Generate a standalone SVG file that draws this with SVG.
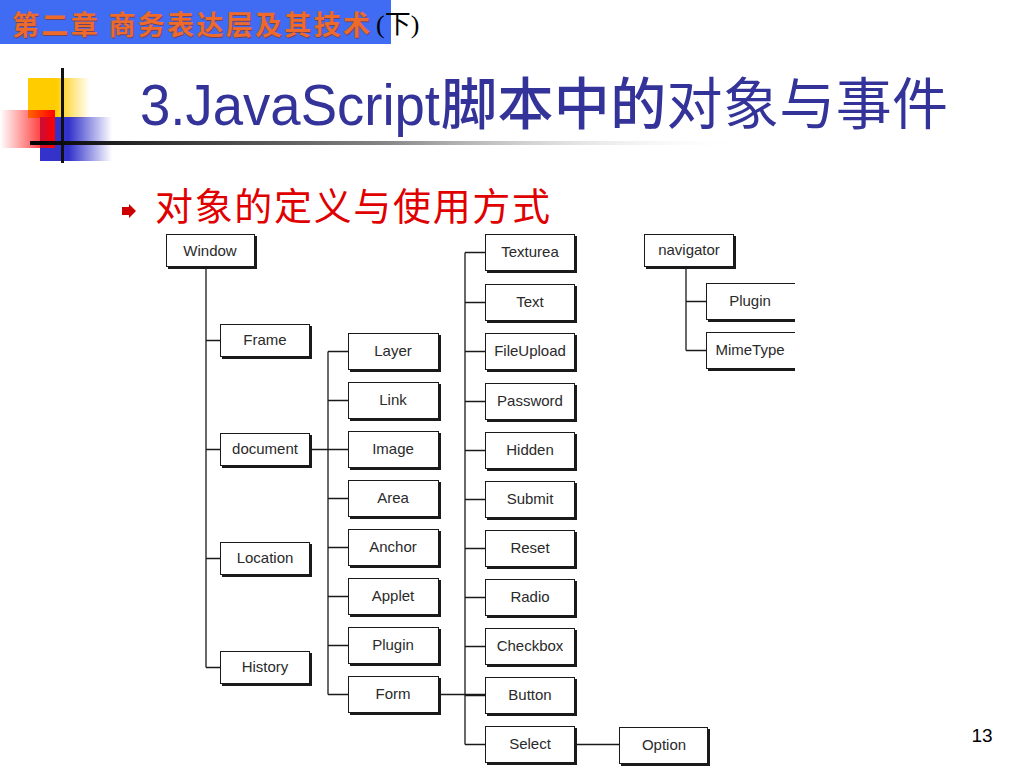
<svg xmlns="http://www.w3.org/2000/svg" width="1024" height="768" viewBox="0 0 1024 768">
<defs>
<style>
.box{fill:#fff;stroke:#1a1a1a;stroke-width:1}
.sh{fill:#1a1a1a}
.lbl{font-family:"Liberation Sans","DejaVu Sans",sans-serif;font-size:15px;fill:#2a2a2a;text-anchor:middle}
.con{fill:none;stroke:#1a1a1a;stroke-width:1.3}
</style>
<linearGradient id="gY" x1="0" x2="1" y1="0" y2="0"><stop offset="0" stop-color="#FFCC00"/><stop offset="0.45" stop-color="#FFCC00"/><stop offset="1" stop-color="#FFCC00" stop-opacity="0"/></linearGradient>
<linearGradient id="gR" x1="0" x2="1" y1="0" y2="0"><stop offset="0" stop-color="#FF0000" stop-opacity="0"/><stop offset="1" stop-color="#FF0000"/></linearGradient>
<linearGradient id="gB" x1="0" x2="1" y1="0" y2="0"><stop offset="0" stop-color="#3333CC"/><stop offset="0.4" stop-color="#3333CC"/><stop offset="1" stop-color="#3333CC" stop-opacity="0"/></linearGradient>
<linearGradient id="gL" x1="0" x2="1" y1="0" y2="0"><stop offset="0" stop-color="#000"/><stop offset="0.5" stop-color="#888"/><stop offset="1" stop-color="#fff" stop-opacity="0"/></linearGradient>
<clipPath id="cr"><rect x="0" y="0" width="795" height="768"/></clipPath>
</defs>
<rect width="1024" height="768" fill="#fff"/>
<g id="header">
<rect x="0" y="0" width="391" height="44" fill="#3F6CF2"/>
<text x="13" y="36" font-family="'Noto Sans CJK SC',sans-serif" font-weight="bold" font-size="27" fill="#8a2a08" opacity="0.6" textLength="358" lengthAdjust="spacing">第二章 商务表达层及其技术</text>
<text x="12" y="35" font-family="'Noto Sans CJK SC',sans-serif" font-weight="bold" font-size="27" fill="#EE6A2A" textLength="358" lengthAdjust="spacing">第二章 商务表达层及其技术</text>
<text x="376" y="33" font-family="'Liberation Serif','Noto Sans CJK SC',serif" font-size="26" fill="#000">(下)</text>
</g>
<g id="decor">
<rect x="28" y="78" width="62" height="40" fill="url(#gY)"/>
<rect x="40" y="117" width="72" height="44" fill="url(#gB)"/>
<rect x="0" y="110" width="55" height="38" fill="url(#gR)"/>
<rect x="61" y="68" width="3" height="95" fill="#111"/>
<rect x="30" y="141" width="720" height="4" fill="url(#gL)"/>
</g>
<g id="title">
<text x="140" y="125" font-family="'Liberation Sans',sans-serif" font-size="58" fill="#333399" textLength="300" lengthAdjust="spacingAndGlyphs">3.JavaScript</text>
<text x="441" y="124" font-family="'Noto Sans CJK SC',sans-serif" font-size="56" fill="#333399" textLength="507"><tspan font-weight="500">脚本中的</tspan>对象与事件</text>
</g>
<g id="subtitle">
<polygon points="122,207 129,207 129,204 136,211 129,218 129,215 122,215" fill="#CC0000"/>
<text x="155" y="220" font-family="'Noto Sans CJK SC',sans-serif" font-size="38" fill="#E00000" textLength="395">对象的定义与使用方式</text>
</g>
<g id="connectors">
<path class="con" d="M206 267V667.5M206 340.5H220M206 449.5H220M206 558.5H220M206 667.5H220"/>
<path class="con" d="M310 449.5H348M328 351.5V694.5M328 351.5H348M328 400.5H348M328 449.5H348M328 498.5H348M328 547.5H348M328 596.5H348M328 645.5H348M328 694.5H348"/>
<path class="con" d="M439 694.5H485M465 252.5V744.5M465 252.5H485M465 302.5H485M465 351.5H485M465 401.5H485M465 450.5H485M465 499.5H485M465 548.5H485M465 597.5H485M465 646.5H485M465 695.5H485M465 744.5H485"/>
<path class="con" d="M575 744.5H619"/>
<path class="con" d="M686 267V350.5M686 301.5H706M686 350.5H706"/>
</g>
<g id="n-window"><rect class="sh" x="168" y="236" width="89" height="33"/><rect class="box" x="166.5" y="234.5" width="88" height="32"/><text class="lbl" x="210" y="256">Window</text></g>
<g id="n-frame"><rect class="sh" x="222" y="326" width="90" height="33"/><rect class="box" x="220.5" y="324.5" width="89" height="32"/><text class="lbl" x="265" y="345">Frame</text></g>
<g id="n-document"><rect class="sh" x="222" y="435" width="90" height="33"/><rect class="box" x="220.5" y="433.5" width="89" height="32"/><text class="lbl" x="265" y="454">document</text></g>
<g id="n-location"><rect class="sh" x="222" y="544" width="90" height="33"/><rect class="box" x="220.5" y="542.5" width="89" height="32"/><text class="lbl" x="265" y="563">Location</text></g>
<g id="n-history"><rect class="sh" x="222" y="653" width="90" height="33"/><rect class="box" x="220.5" y="651.5" width="89" height="32"/><text class="lbl" x="265" y="672">History</text></g>
<g id="n-layer"><rect class="sh" x="350" y="335" width="91" height="37"/><rect class="box" x="348.5" y="333.5" width="90" height="36"/><text class="lbl" x="393" y="356">Layer</text></g>
<g id="n-link"><rect class="sh" x="350" y="384" width="91" height="37"/><rect class="box" x="348.5" y="382.5" width="90" height="36"/><text class="lbl" x="393" y="405">Link</text></g>
<g id="n-image"><rect class="sh" x="350" y="433" width="91" height="37"/><rect class="box" x="348.5" y="431.5" width="90" height="36"/><text class="lbl" x="393" y="454">Image</text></g>
<g id="n-area"><rect class="sh" x="350" y="482" width="91" height="37"/><rect class="box" x="348.5" y="480.5" width="90" height="36"/><text class="lbl" x="393" y="503">Area</text></g>
<g id="n-anchor"><rect class="sh" x="350" y="531" width="91" height="37"/><rect class="box" x="348.5" y="529.5" width="90" height="36"/><text class="lbl" x="393" y="552">Anchor</text></g>
<g id="n-applet"><rect class="sh" x="350" y="580" width="91" height="37"/><rect class="box" x="348.5" y="578.5" width="90" height="36"/><text class="lbl" x="393" y="601">Applet</text></g>
<g id="n-plugin"><rect class="sh" x="350" y="629" width="91" height="37"/><rect class="box" x="348.5" y="627.5" width="90" height="36"/><text class="lbl" x="393" y="650">Plugin</text></g>
<g id="n-form"><rect class="sh" x="350" y="678" width="91" height="37"/><rect class="box" x="348.5" y="676.5" width="90" height="36"/><text class="lbl" x="393" y="699">Form</text></g>
<g id="n-texturea"><rect class="sh" x="487" y="236" width="90" height="37"/><rect class="box" x="485.5" y="234.5" width="89" height="36"/><text class="lbl" x="530" y="257">Texturea</text></g>
<g id="n-text"><rect class="sh" x="487" y="286" width="90" height="37"/><rect class="box" x="485.5" y="284.5" width="89" height="36"/><text class="lbl" x="530" y="307">Text</text></g>
<g id="n-fileupload"><rect class="sh" x="487" y="335" width="90" height="37"/><rect class="box" x="485.5" y="333.5" width="89" height="36"/><text class="lbl" x="530" y="356">FileUpload</text></g>
<g id="n-password"><rect class="sh" x="487" y="385" width="90" height="37"/><rect class="box" x="485.5" y="383.5" width="89" height="36"/><text class="lbl" x="530" y="406">Password</text></g>
<g id="n-hidden"><rect class="sh" x="487" y="434" width="90" height="37"/><rect class="box" x="485.5" y="432.5" width="89" height="36"/><text class="lbl" x="530" y="455">Hidden</text></g>
<g id="n-submit"><rect class="sh" x="487" y="483" width="90" height="37"/><rect class="box" x="485.5" y="481.5" width="89" height="36"/><text class="lbl" x="530" y="504">Submit</text></g>
<g id="n-reset"><rect class="sh" x="487" y="532" width="90" height="37"/><rect class="box" x="485.5" y="530.5" width="89" height="36"/><text class="lbl" x="530" y="553">Reset</text></g>
<g id="n-radio"><rect class="sh" x="487" y="581" width="90" height="37"/><rect class="box" x="485.5" y="579.5" width="89" height="36"/><text class="lbl" x="530" y="602">Radio</text></g>
<g id="n-checkbox"><rect class="sh" x="487" y="630" width="90" height="37"/><rect class="box" x="485.5" y="628.5" width="89" height="36"/><text class="lbl" x="530" y="651">Checkbox</text></g>
<g id="n-button"><rect class="sh" x="487" y="679" width="90" height="37"/><rect class="box" x="485.5" y="677.5" width="89" height="36"/><text class="lbl" x="530" y="700">Button</text></g>
<g id="n-select"><rect class="sh" x="487" y="728" width="90" height="37"/><rect class="box" x="485.5" y="726.5" width="89" height="36"/><text class="lbl" x="530" y="749">Select</text></g>
<g id="n-option"><rect class="sh" x="621" y="729" width="89" height="37"/><rect class="box" x="619.5" y="727.5" width="88" height="36"/><text class="lbl" x="664" y="750">Option</text></g>
<g id="n-navigator"><rect class="sh" x="646" y="236" width="90" height="33"/><rect class="box" x="644.5" y="234.5" width="89" height="32"/><text class="lbl" x="689" y="255">navigator</text></g>
<g id="n-plugin2" clip-path="url(#cr)"><rect class="sh" x="708" y="285" width="95" height="37"/><rect class="box" x="706.5" y="283.5" width="94" height="36"/><text class="lbl" x="750" y="306">Plugin</text></g>
<g id="n-mimetype" clip-path="url(#cr)"><rect class="sh" x="708" y="334" width="95" height="37"/><rect class="box" x="706.5" y="332.5" width="94" height="36"/><text class="lbl" x="750" y="355">MimeType</text></g>
<g id="page"><text x="982" y="742" font-family="'Liberation Sans',sans-serif" font-size="19" fill="#000" text-anchor="middle">13</text></g>
</svg>
